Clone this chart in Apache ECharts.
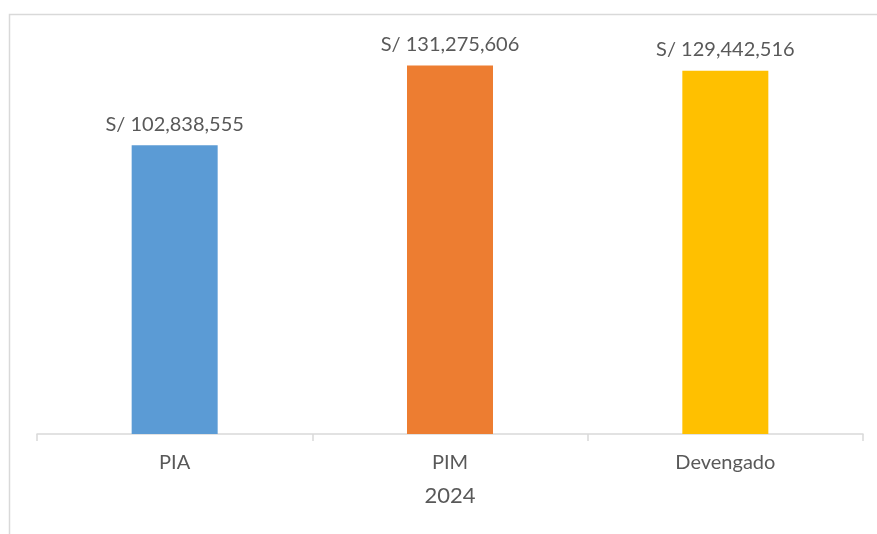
<!DOCTYPE html>
<html><head><meta charset="utf-8">
<script src="https://cdn.jsdelivr.net/npm/echarts@6/dist/echarts.min.js"></script>
<style>html,body{margin:0;padding:0;background:#fff}#c{width:877px;height:534px}</style>
</head><body><div id="c"></div>
<script>
const categories = ["PIA", "PIM", "Devengado"];
const values = [102838555, 131275606, 129442516];
const barColors = ["#5B9BD5", "#ED7D31", "#FFC000"];
const axisTitle = "2024";

const chart = echarts.init(document.getElementById('c'), null, {renderer: 'canvas'});
const fmt = v => 'S/ ' + v.toLocaleString('en-US');
chart.setOption({
  animation: false,
  backgroundColor: '#fff',
  graphic: [{type: 'rect', shape: {x: 9.5, y: 14.5, width: 900, height: 600}, style: {fill: 'none', stroke: '#D9D9D9', lineWidth: 1.5}, silent: true}],
  grid: {left: 37, right: 14, top: 41, bottom: 100},
  xAxis: {
    type: 'category', data: categories,
    axisLine: {lineStyle: {color: '#D9D9D9', width: 1.5}},
    axisTick: {show: true, length: 7, lineStyle: {color: '#D9D9D9', width: 1.5}},
    axisLabel: {color: '#595959', fontFamily: 'Lato', fontSize: 20, margin: 19},
    name: axisTitle, nameLocation: 'middle', nameGap: 51,
    nameTextStyle: {color: '#595959', fontFamily: 'Lato', fontSize: 22}
  },
  yAxis: {type: 'value', min: 0, max: 140000000, show: false, splitLine: {show: false}},
  series: [{
    type: 'bar', barWidth: 86,
    data: values.map((v, i) => ({value: v, itemStyle: {color: barColors[i]}})),
    label: {show: true, position: 'top', distance: 11, formatter: p => fmt(p.value), color: '#595959', fontFamily: 'Lato', fontSize: 20}
  }]
});
</script></body></html>
